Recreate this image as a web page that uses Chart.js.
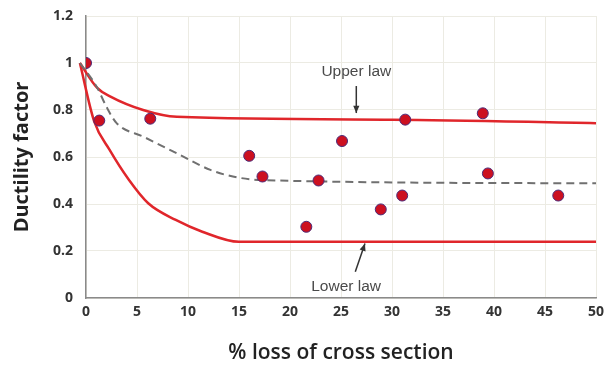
<!DOCTYPE html>
<html lang="en">
<head>
<meta charset="UTF-8">
<title>Ductility factor vs % loss of cross section</title>
<script src="https://cdn.jsdelivr.net/npm/chart.js"></script>
<style>
  html, body { margin: 0; padding: 0; background: #fff; }
</style>
</head>
<body>
<canvas id="chart" width="608" height="369"></canvas>
<script>
  // test results (% loss, ductility factor)
  const testX = [0, 1.3, 6.3, 16.0, 17.3, 21.6, 22.8, 25.1, 28.9, 31.0, 31.3, 38.9, 39.4, 46.3];
  const testY = [1.0, 0.755, 0.763, 0.605, 0.517, 0.303, 0.500, 0.668, 0.377, 0.436, 0.759, 0.786, 0.530, 0.436];

  // upper law
  const upperX = [-0.6, 1.1, 2.4, 5.6, 8.9, 30, 50];
  const upperY = [1.0, 0.894, 0.857, 0.800, 0.771, 0.759, 0.744];

  // lower law
  const lowerX = [-0.6, 0.8, 2.3, 4.2, 6.1, 8.8, 11.4, 15.0, 50];
  const lowerY = [1.0, 0.752, 0.631, 0.503, 0.403, 0.332, 0.282, 0.239, 0.239];

  // mean curve (dashed)
  const meanX = [-0.6, 1.05, 2.0, 3.0, 5.6, 8.9, 12.2, 14.4, 17.1, 50];
  const meanY = [1.0, 0.899, 0.814, 0.744, 0.687, 0.616, 0.545, 0.517, 0.502, 0.488];

  const xTicks = [0, 5, 10, 15, 20, 25, 30, 35, 40, 45, 50];
  const yTicks = [0, 0.2, 0.4, 0.6, 0.8, 1, 1.2];

  // labels with arrows
  const notes = [
    { text: 'Upper law', x: 26.5, y: 0.965, ax1: 26.5, ay1: 0.902, ax2: 26.5, ay2: 0.787 },
    { text: 'Lower law', x: 25.5, y: 0.048, ax1: 26.4, ay1: 0.112, ax2: 27.35, ay2: 0.232 }
  ];

  const pts = (xs, ys) => xs.map((x, i) => ({ x: x, y: ys[i] }));

  const notePlugin = {
    id: 'notes',
    afterDatasetsDraw(chart) {
      const c = chart.ctx, sx = chart.scales.x, sy = chart.scales.y;
      c.save();
      c.font = '15.5px "Liberation Sans", Arial, sans-serif';
      c.textAlign = 'center';
      c.textBaseline = 'middle';
      notes.forEach(n => {
        c.fillStyle = '#4a4a4a';
        c.fillText(n.text, sx.getPixelForValue(n.x), sy.getPixelForValue(n.y));
        const x1 = sx.getPixelForValue(n.ax1), y1 = sy.getPixelForValue(n.ay1);
        const x2 = sx.getPixelForValue(n.ax2), y2 = sy.getPixelForValue(n.ay2);
        c.strokeStyle = '#333';
        c.lineWidth = 1.5;
        c.beginPath();
        c.moveTo(x1, y1);
        c.lineTo(x2, y2);
        c.stroke();
        const a = Math.atan2(y2 - y1, x2 - x1);
        c.fillStyle = '#333';
        c.beginPath();
        c.moveTo(x2, y2);
        c.lineTo(x2 - 8 * Math.cos(a - 0.4), y2 - 8 * Math.sin(a - 0.4));
        c.lineTo(x2 - 8 * Math.cos(a + 0.4), y2 - 8 * Math.sin(a + 0.4));
        c.closePath();
        c.fill();
      });
      c.restore();
    }
  };

  const lineStyle = {
    type: 'line',
    borderColor: '#e0262b',
    borderWidth: 2.5,
    pointRadius: 0,
    fill: false,
    clip: false,
    cubicInterpolationMode: 'monotone',
    order: 2
  };

  new Chart(document.getElementById('chart'), {
    type: 'scatter',
    data: {
      datasets: [
        {
          label: 'Tests',
          data: pts(testX, testY),
          backgroundColor: '#cc1020',
          borderColor: '#4b2a78',
          borderWidth: 1,
          pointRadius: 5.5,
          order: 0
        },
        Object.assign({ label: 'Upper law', data: pts(upperX, upperY) }, lineStyle),
        Object.assign({ label: 'Lower law', data: pts(lowerX, lowerY) }, lineStyle),
        {
          type: 'line',
          label: 'Mean',
          data: pts(meanX, meanY),
          borderColor: '#707070',
          borderWidth: 2,
          borderDash: [8, 5],
          pointRadius: 0,
          fill: false,
          clip: false,
          cubicInterpolationMode: 'monotone',
          order: 1
        }
      ]
    },
    options: {
      responsive: false,
      animation: false,
      layout: { padding: { left: 0, right: 12, top: 16, bottom: 0 } },
      plugins: { legend: { display: false }, tooltip: { enabled: false } },
      scales: {
        x: {
          type: 'linear',
          min: 0, max: 50,
          afterBuildTicks: s => { s.ticks = xTicks.map(v => ({ value: v })); },
          afterFit: s => { s.height = 71; s.paddingLeft = 0; s.paddingRight = 0; },
          grid: { color: '#ecebe3', lineWidth: 1, drawTicks: false },
          border: { color: '#8a8a8a', width: 1.5 },
          ticks: {
            padding: 6,
            color: '#333',
            font: { family: '"Open Sans", sans-serif', size: 14, weight: 'bold' }
          },
          title: {
            display: true,
            text: '% loss of cross section',
            color: '#222',
            padding: { top: 0, bottom: 3 },
            font: { family: '"Open Sans", sans-serif', size: 21, weight: '600' }
          }
        },
        y: {
          min: 0, max: 1.2,
          afterBuildTicks: s => { s.ticks = yTicks.map(v => ({ value: v })); },
          afterFit: s => { s.width = 86; s.paddingTop = 0; s.paddingBottom = 0; },
          grid: { color: '#ecebe3', lineWidth: 1, drawTicks: false },
          border: { color: '#8a8a8a', width: 1.5 },
          ticks: {
            padding: 13,
            color: '#333',
            callback: v => String(+v.toFixed(1)),
            font: { family: '"Open Sans", sans-serif', size: 14, weight: 'bold' }
          },
          title: {
            display: true,
            text: 'Ductility factor',
            color: '#222',
            padding: { top: 10, bottom: 0 },
            font: { family: '"Open Sans", sans-serif', size: 20, weight: 'bold' }
          }
        }
      }
    },
    plugins: [notePlugin]
  });
</script>
</body>
</html>
